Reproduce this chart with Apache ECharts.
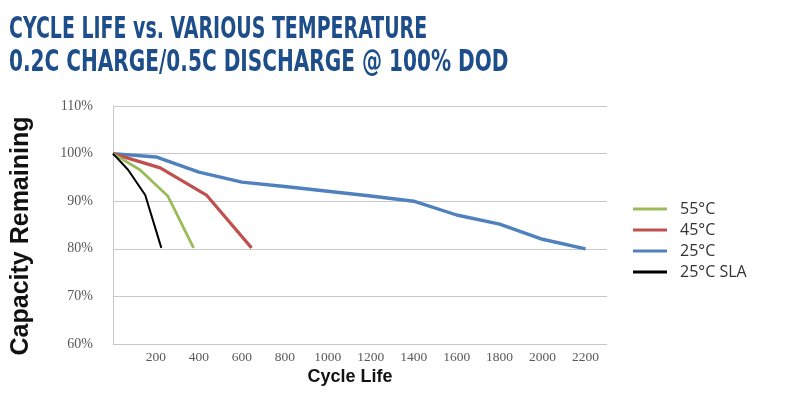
<!DOCTYPE html>
<html>
<head>
<meta charset="utf-8">
<script src="https://cdn.jsdelivr.net/npm/echarts@6/dist/echarts.min.js"></script>
<style>
  html, body { margin: 0; padding: 0; background: #fff; }
  #chart { width: 807px; height: 399px; }
</style>
</head>
<body>
<div id="chart"></div>
<script>
// 标题
const titleLines = ['CYCLE LIFE vs. VARIOUS TEMPERATURE', '0.2C CHARGE/0.5C DISCHARGE @ 100% DOD'];
const xAxisName = 'Cycle Life';
const yAxisName = 'Capacity Remaining';

// 各温度曲线数据（循环次数 / 剩余容量%）
const seriesNames = ['55°C', '45°C', '25°C', '25°C SLA'];
const cycles55 = [0, 125, 255, 375];
const cap55 = [100, 96.6, 91.1, 80.2];
const cycles45 = [0, 220, 435, 645];
const cap45 = [100, 97, 91.3, 80.2];
const cycles25 = [0, 200, 400, 600, 800, 1000, 1200, 1400, 1600, 1800, 2000, 2200];
const cap25 = [100, 99.3, 96.1, 94, 93.1, 92.1, 91.1, 90, 87.1, 85.2, 82, 80];
const cyclesSla = [0, 70, 150, 225];
const capSla = [100, 96.6, 91.3, 80.2];

const colors = ['#9bbb59', '#c0504d', '#4f81bd', '#000000'];

const zip = (xs, ys) => xs.map((x, i) => [x, ys[i]]);
const seriesData = [zip(cycles55, cap55), zip(cycles45, cap45), zip(cycles25, cap25), zip(cyclesSla, capSla)];
const lineWidths = [2.8, 3.2, 3.4, 2];

const titleFont = 'bold 31px "DejaVu Sans Condensed", "DejaVu Sans", sans-serif';

const mychart = echarts.init(document.getElementById('chart'));

const option = {
  animation: false,
  color: colors,
  graphic: [
    {
      type: 'text',
      x: 9,
      y: 14,
      scaleX: 0.68,
      style: { text: titleLines[0], font: titleFont, fill: '#1d4e89', verticalAlign: 'top' },
    },
    {
      type: 'text',
      x: 9,
      y: 47,
      scaleX: 0.72,
      style: { text: titleLines[1], font: titleFont, fill: '#1d4e89', verticalAlign: 'top' },
    },
    {
      type: 'text',
      x: 21,
      y: 236,
      rotation: Math.PI / 2,
      style: {
        text: yAxisName,
        font: 'bold 25px "Liberation Sans", Arial, sans-serif',
        fill: '#111',
        align: 'center',
        verticalAlign: 'middle',
      },
    },
    {
      type: 'text',
      x: 350,
      y: 377,
      style: {
        text: xAxisName,
        font: 'bold 18px "Liberation Sans", Arial, sans-serif',
        fill: '#111',
        align: 'center',
        verticalAlign: 'middle',
      },
    },
  ],
  grid: {
    left: 113,
    right: 200,
    top: 106,
    bottom: 55,
  },
  legend: {
    orient: 'vertical',
    left: 628,
    top: 196,
    icon: 'rect',
    itemWidth: 34,
    itemHeight: 3,
    itemGap: 5,
    data: seriesNames,
    textStyle: {
      fontFamily: 'Open Sans, sans-serif',
      fontSize: 16,
      color: '#333',
      padding: [0, 0, 0, 8],
    },
  },
  xAxis: {
    type: 'value',
    min: 0,
    max: 2300,
    interval: 200,
    axisLine: { show: false },
    axisTick: { show: false },
    splitLine: { show: false },
    axisLabel: {
      margin: 6,
      fontFamily: 'Liberation Serif, serif',
      fontSize: 13.5,
      color: '#595959',
      formatter: (v) => (v === 0 || v % 200 !== 0 ? '' : String(v)),
    },
  },
  yAxis: {
    type: 'value',
    min: 60,
    max: 110,
    interval: 10,
    axisLine: { show: true, lineStyle: { color: '#c8c8c8', width: 1 } },
    axisTick: { show: false },
    splitLine: { lineStyle: { color: '#c8c8c8', width: 1.2 } },
    axisLabel: {
      margin: 20,
      fontFamily: 'Liberation Serif, serif',
      fontSize: 14,
      color: '#595959',
      formatter: '{value}%',
    },
  },
  series: seriesNames.map((name, i) => ({
    name: name,
    type: 'line',
    data: seriesData[i],
    symbol: 'none',
    smooth: false,
    lineStyle: { color: colors[i], width: lineWidths[i] },
    itemStyle: { color: colors[i] },
    z: i === 3 ? 5 : 4 - i,
  })),
};

mychart.setOption(option);

window.addEventListener('resize', () => {
  mychart.resize();
});
</script>
</body>
</html>
